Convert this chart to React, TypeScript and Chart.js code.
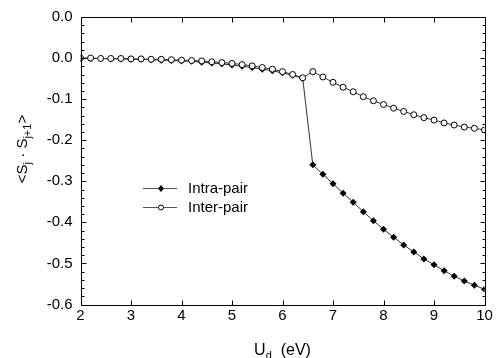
import React, { useEffect, useRef } from "react";
import { Chart, registerables } from "chart.js";

Chart.register(...registerables);

const uValues = [2.0, 2.2, 2.4, 2.6, 2.8, 3.0, 3.2, 3.4, 3.6, 3.8, 4.0, 4.2, 4.4, 4.6, 4.8, 5.0, 5.2, 5.4, 5.6, 5.8, 6.0, 6.2, 6.4, 6.6, 6.8, 7.0, 7.2, 7.4, 7.6, 7.8, 8.0, 8.2, 8.4, 8.6, 8.8, 9.0, 9.2, 9.4, 9.6, 9.8, 10.0];

const intraPair = [-0.001, -0.001, -0.001, -0.002, -0.002, -0.003, -0.003, -0.004, -0.005, -0.006, -0.007, -0.008, -0.010, -0.012, -0.014, -0.017, -0.020, -0.023, -0.027, -0.031, -0.036, -0.042, -0.049, -0.260, -0.283, -0.306, -0.329, -0.351, -0.374, -0.396, -0.417, -0.436, -0.455, -0.472, -0.489, -0.503, -0.518, -0.531, -0.543, -0.553, -0.563];

const interPair = [0.000, 0.000, -0.001, -0.001, -0.001, -0.002, -0.002, -0.003, -0.003, -0.004, -0.005, -0.006, -0.007, -0.009, -0.011, -0.013, -0.016, -0.019, -0.023, -0.027, -0.033, -0.040, -0.048, -0.033, -0.046, -0.059, -0.071, -0.082, -0.094, -0.104, -0.113, -0.122, -0.130, -0.138, -0.145, -0.151, -0.158, -0.163, -0.168, -0.171, -0.175];

const seriesNames = ["Intra-pair", "Inter-pair"];
const xTickLabels = ["2", "3", "4", "5", "6", "7", "8", "9", "10"];
// bottom to top (-0.6 ... 0.1); the top label reads "0.0" in the original
const yTickLabels = ["-0.6", "-0.5", "-0.4", "-0.3", "-0.2", "-0.1", "0.0", "0.0"];

const FONT = "'Liberation Sans', Arial, Helvetica, sans-serif";

const framePlugin = {
  id: "frameTicks",
  afterDraw(chart: any) {
    const { ctx, chartArea, scales } = chart;
    const xs = scales.x;
    const ys = scales.y;
    const L = Math.round(chartArea.left) + 0.5;
    const R = Math.round(chartArea.right) + 0.5;
    const T = Math.round(chartArea.top) + 0.5;
    const B = Math.round(chartArea.bottom) + 0.5;
    ctx.save();
    ctx.strokeStyle = "#000";
    ctx.lineWidth = 1;
    ctx.beginPath();
    ctx.moveTo(L, T);
    ctx.lineTo(R, T);
    ctx.lineTo(R, B);
    ctx.lineTo(L, B);
    ctx.closePath();
    for (let u = 2; u <= 10; u++) {
      const px = Math.round(xs.getPixelForValue(u)) + 0.5;
      ctx.moveTo(px, B);
      ctx.lineTo(px, B - 5);
      ctx.moveTo(px, T);
      ctx.lineTo(px, T + 5);
    }
    for (let k = -30; k <= 5; k++) {
      const v = k * 0.02;
      const py = Math.round(ys.getPixelForValue(v)) + 0.5;
      const len = k % 5 === 0 ? 5 : 3;
      ctx.moveTo(L, py);
      ctx.lineTo(L + len, py);
      ctx.moveTo(R, py);
      ctx.lineTo(R - len, py);
    }
    ctx.stroke();
    ctx.restore();

    ctx.save();
    ctx.fillStyle = "#000";
    ctx.textBaseline = "alphabetic";
    // x title: U_d  (eV)
    const cx = (chartArea.left + chartArea.right) / 2;
    const big = `16px ${FONT}`;
    const small = `11px ${FONT}`;
    const parts = [
      { t: "U", f: big, dy: 0 },
      { t: "d", f: small, dy: 4 },
      { t: "  (eV)", f: big, dy: 0 },
    ];
    let total = 0;
    for (const p of parts) { ctx.font = p.f; total += ctx.measureText(p.t).width; }
    let x = cx - total / 2;
    const by = 355;
    for (const p of parts) {
      ctx.font = p.f;
      ctx.textAlign = "left";
      ctx.fillText(p.t, x, by + p.dy);
      x += ctx.measureText(p.t).width;
    }
    // y title: <S_j · S_j+1>
    const yparts = [
      { t: "<S", f: `15px ${FONT}`, dy: 0 },
      { t: "j", f: `11px ${FONT}`, dy: 4 },
      { t: " \u00B7 S", f: `15px ${FONT}`, dy: 0 },
      { t: "j+1", f: `11px ${FONT}`, dy: 4 },
      { t: ">", f: `15px ${FONT}`, dy: 0 },
    ];
    let ytot = 0;
    for (const p of yparts) { ctx.font = p.f; ytot += ctx.measureText(p.t).width; }
    ctx.translate(27, 149);
    ctx.rotate(-Math.PI / 2);
    let yx = -ytot / 2;
    for (const p of yparts) {
      ctx.font = p.f;
      ctx.textAlign = "left";
      ctx.fillText(p.t, yx, p.dy);
      yx += ctx.measureText(p.t).width;
    }
    ctx.restore();

    // legend
    ctx.save();
    const rows = [
      { name: seriesNames[0], y: 188, filled: true },
      { name: seriesNames[1], y: 207, filled: false },
    ];
    for (const r of rows) {
      ctx.strokeStyle = "#555";
      ctx.lineWidth = 1;
      ctx.beginPath();
      ctx.moveTo(143, r.y + 0.5);
      ctx.lineTo(177, r.y + 0.5);
      ctx.stroke();
      ctx.strokeStyle = "#000";
      if (r.filled) {
        ctx.fillStyle = "#000";
        ctx.beginPath();
        ctx.moveTo(161, r.y - 3);
        ctx.lineTo(164, r.y + 0.5);
        ctx.lineTo(161, r.y + 4);
        ctx.lineTo(158, r.y + 0.5);
        ctx.closePath();
        ctx.fill();
      } else {
        ctx.fillStyle = "#fff";
        ctx.beginPath();
        ctx.arc(161, r.y + 0.5, 2.5, 0, Math.PI * 2);
        ctx.fill();
        ctx.stroke();
      }
      ctx.fillStyle = "#000";
      ctx.font = `15px ${FONT}`;
      ctx.textAlign = "left";
      ctx.textBaseline = "middle";
      ctx.fillText(r.name, 188, r.y + 1);
    }
    ctx.restore();
  },
};

export default function App() {
  const ref = useRef<HTMLCanvasElement | null>(null);
  useEffect(() => {
    if (!ref.current) return;
    const chart = new Chart(ref.current, {
      type: "line",
      data: {
        datasets: [
          {
            label: seriesNames[1],
            data: uValues.map((u, i) => ({ x: u, y: interPair[i] })),
            borderColor: "#333",
            borderWidth: 1,
            pointStyle: "circle",
            pointRadius: 3,
            pointBackgroundColor: "#fff",
            pointBorderColor: "#000",
            pointBorderWidth: 1,
            tension: 0,
            order: 0,
          },
          {
            label: seriesNames[0],
            data: uValues.map((u, i) => ({ x: u, y: intraPair[i] })),
            borderColor: "#333",
            borderWidth: 1,
            pointStyle: "rectRot",
            pointRadius: 3.5,
            pointBackgroundColor: "#000",
            pointBorderColor: "#000",
            pointBorderWidth: 0,
            tension: 0,
            order: 1,
          },
        ],
      },
      options: {
        responsive: false,
        animation: false,
        layout: { padding: { top: 15.5, right: 15.5, left: 0, bottom: 0 } },
        plugins: { legend: { display: false }, tooltip: { enabled: false } },
        scales: {
          x: {
            type: "linear",
            min: 2,
            max: 10,
            grid: { display: false, drawTicks: false },
            border: { display: false },
            ticks: {
              stepSize: 1,
              padding: 2,
              color: "#000",
              font: { family: FONT, size: 15 },
              maxRotation: 0,
              callback: (_v: any, i: number) => xTickLabels[i],
            },
            afterFit: (s: any) => { s.height = 53.5; },
          },
          y: {
            type: "linear",
            min: -0.6,
            max: 0.1,
            grid: { display: false, drawTicks: false },
            border: { display: false },
            ticks: {
              stepSize: 0.1,
              padding: 8,
              color: "#000",
              font: { family: FONT, size: 15 },
              callback: (_v: any, i: number) => yTickLabels[i],
            },
            afterFit: (s: any) => { s.width = 80.5; },
          },
        },
      },
      plugins: [framePlugin],
    } as any);
    return () => chart.destroy();
  }, []);
  return (
    <div style={{ position: "absolute", left: 0, top: 0, width: 500, height: 358, background: "#fff" }}>
      <canvas ref={ref} width={500} height={358} />
    </div>
  );
}
